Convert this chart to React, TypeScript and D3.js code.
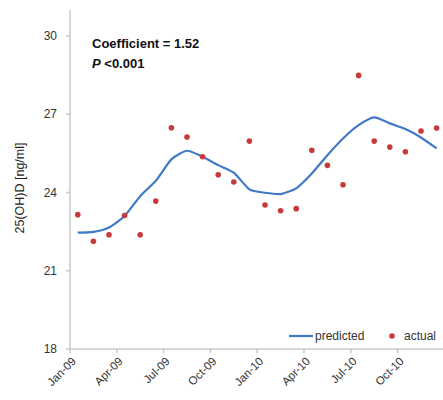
import React from 'react';
import * as d3 from 'd3';

const months = [
  'Jan-09', 'Feb-09', 'Mar-09', 'Apr-09', 'May-09', 'Jun-09',
  'Jul-09', 'Aug-09', 'Sep-09', 'Oct-09', 'Nov-09', 'Dec-09',
  'Jan-10', 'Feb-10', 'Mar-10', 'Apr-10', 'May-10', 'Jun-10',
  'Jul-10', 'Aug-10', 'Sep-10', 'Oct-10', 'Nov-10', 'Dec-10',
];

const predicted = [
  22.46, 22.49, 22.66, 23.1, 23.86, 24.45, 25.27, 25.6, 25.37, 25.05, 24.76, 24.12,
  23.99, 23.94, 24.16, 24.73, 25.43, 26.07, 26.58, 26.88, 26.65, 26.43, 26.11, 25.69,
];

const actual = [
  23.15, 22.13, 22.38, 23.12, 22.38, 23.67, 26.48, 26.13, 25.37, 24.68, 24.4, 25.97,
  23.52, 23.3, 23.38, 25.62, 25.04, 24.3, 28.49, 25.97, 25.74, 25.56, 26.36, 26.47,
];

const yTicks = [18, 21, 24, 27, 30];
const xTickLabels = ['Jan-09', 'Apr-09', 'Jul-09', 'Oct-09', 'Jan-10', 'Apr-10', 'Jul-10', 'Oct-10'];

const width = 443;
const height = 400;
const marginLeft = 70;
const plotRight = 444.4;
const axisTop = 10;

const font = 'Liberation Sans, Arial, sans-serif';

export default function App() {
  const x = d3.scaleBand<string>().domain(months).range([marginLeft, plotRight]).padding(0);
  const y = d3.scaleLinear().domain([18, 30]).range([349, 36]);
  const cx = (m: string) => (x(m) ?? 0) + x.bandwidth() / 2;

  // lightly smoothed like excel's "smoothed line"
  const line = d3.line<number>()
    .x((_, i) => cx(months[i]))
    .y(d => y(d))
    .curve(d3.curveCardinal.tension(0.4));

  const axisColor = '#c8c8c8';
  const x0 = y(18);

  return (
    <svg
      width={width}
      height={height}
      style={{ position: 'absolute', left: 0, top: 0, background: '#fff' }}
      fontFamily={font}
    >
      {/* y axis */}
      <line x1={marginLeft} x2={marginLeft} y1={axisTop} y2={x0} stroke={axisColor} strokeWidth={1.5} />
      {yTicks.map(t => (
        <g key={t}>
          <line x1={marginLeft - 4} x2={marginLeft} y1={y(t)} y2={y(t)} stroke={axisColor} strokeWidth={1.5} />
          <text x={57} y={y(t)} dy="0.35em" textAnchor="end" fontSize={12} fill="#333">{t}</text>
        </g>
      ))}
      <text
        transform={`translate(24,${188}) rotate(-90)`}
        textAnchor="middle"
        fontSize={12.5}
        fill="#222"
      >
        25(OH)D [ng/ml]
      </text>

      {/* x axis */}
      <line x1={marginLeft} x2={width} y1={x0} y2={x0} stroke={axisColor} strokeWidth={1.5} />
      {xTickLabels.map(m => {
        const tx = x(m) ?? 0;
        return (
          <g key={m}>
            <line x1={tx} x2={tx} y1={x0} y2={x0 + 4} stroke={axisColor} strokeWidth={1.5} />
            <text
              transform={`translate(${tx + 4},${x0 + 10}) rotate(-45)`}
              textAnchor="end"
              dy="0.35em"
              fontSize={11.5}
              fill="#333"
            >
              {m}
            </text>
          </g>
        );
      })}

      {/* predicted line */}
      <path d={line(predicted) ?? ''} fill="none" stroke="#3f7ac6" strokeWidth={2.2} strokeLinejoin="round" />

      {/* actual points */}
      {actual.map((v, i) => (
        <circle key={months[i]} cx={cx(months[i])} cy={y(v)} r={2.8} fill="#c83a3a" />
      ))}

      {/* annotation */}
      <text x={92} y={48} fontSize={13} fontWeight="bold" fill="#111">Coefficient = 1.52</text>
      <text x={92} y={68} fontSize={13} fontWeight="bold" fill="#111">
        <tspan fontStyle="italic">P</tspan> &lt;0.001
      </text>

      {/* legend */}
      <line x1={289} x2={313} y1={336} y2={336} stroke="#3f7ac6" strokeWidth={2.2} />
      <text x={315} y={336} dy="0.35em" fontSize={12} fill="#333">predicted</text>
      <circle cx={392} cy={336} r={2.8} fill="#c83a3a" />
      <text x={404} y={336} dy="0.35em" fontSize={12} fill="#333">actual</text>
    </svg>
  );
}
